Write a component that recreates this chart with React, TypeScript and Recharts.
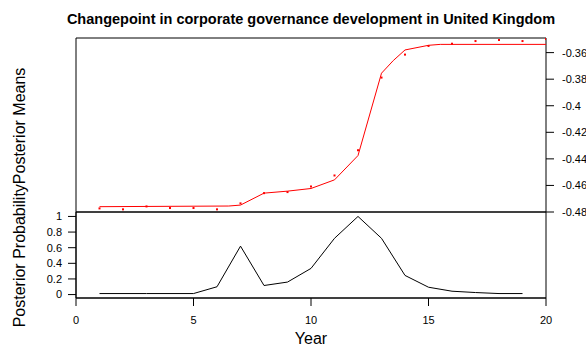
import React from 'react';
import { ComposedChart, Line, XAxis, YAxis, ReferenceArea, Label } from 'recharts';

// fitted posterior means (red line)
const meanLineX = [1, 6.5, 7, 8, 9, 10, 11, 12, 13, 13.5, 14, 15, 15.5, 20];
const meanLineY = [-0.476, -0.4755, -0.4748, -0.4658, -0.4643, -0.4623, -0.4558, -0.4375, -0.3755, -0.366, -0.358, -0.3545, -0.3538, -0.3538];

// observed values (red points)
const obsYears = [1, 2, 3, 4, 5, 6, 7, 8, 9, 10, 11, 12, 13, 14, 15, 16, 17, 18, 19, 20];
const obsValues = [-0.4773, -0.478, -0.4758, -0.477, -0.477, -0.478, -0.4735, -0.4658, -0.465, -0.4608, -0.4525, -0.4335, -0.3788, -0.3615, -0.355, -0.3533, -0.3513, -0.3505, -0.3513, -0.3498];

// posterior probability of a changepoint (black line)
const probYears = [1, 2, 3, 4, 5, 6, 7, 8, 9, 10, 11, 12, 13, 14, 15, 16, 17, 18, 19];
const probValues = [0.013, 0.013, 0.013, 0.013, 0.013, 0.1, 0.62, 0.116, 0.16, 0.335, 0.72, 1.0, 0.72, 0.245, 0.094, 0.043, 0.026, 0.013, 0.013];

const meanTicks = [-0.48, -0.46, -0.44, -0.42, -0.4, -0.38, -0.36];
const probTicks = [0, 0.2, 0.4, 0.6, 0.8, 1];
const yearTicks = [0, 5, 10, 15, 20];

const meanLine = meanLineX.map((x, i) => ({ x, y: meanLineY[i] }));
const obsPoints = obsYears.map((x, i) => ({ x, y: obsValues[i] }));
const probLine = probYears.map((x, i) => ({ x, y: probValues[i] }));

const FONT = '"Liberation Sans", Arial, sans-serif';
const W = 586;
const H = 356;

const fmt = (v: number) => String(+v.toFixed(2));

const SquareDot = (props: any) => {
  const { cx, cy, index } = props;
  if (cx == null || cy == null) return null;
  return <rect key={`pt-${index}`} x={cx - 1} y={cy - 1} width={2} height={2} fill="#ff0000" />;
};

export default function App() {
  const tickStyle = { fill: '#000', fontSize: 11, fontFamily: FONT };
  return (
    <div style={{ position: 'absolute', left: 0, top: 0, width: W, height: H, overflow: 'hidden', background: '#fff', fontFamily: FONT }}>
      {/* upper panel: posterior means */}
      <div style={{ position: 'absolute', left: 0, top: 0 }}>
        <ComposedChart width={W} height={H} margin={{ top: 38, right: 0, left: 76, bottom: 144 }}>
          <XAxis type="number" dataKey="x" domain={[0, 20]} hide allowDataOverflow />
          <YAxis
            orientation="right"
            type="number"
            dataKey="y"
            width={40}
            domain={[-0.48, -0.349]}
            ticks={meanTicks}
            tickFormatter={fmt}
            interval={0}
            allowDataOverflow
            axisLine={false}
            tickLine={{ stroke: '#000' }}
            tickSize={8}
            tickMargin={8}
            tick={tickStyle}
          />
          <ReferenceArea x1={0} x2={20} y1={-0.48} y2={-0.349} fill="none" fillOpacity={0} stroke="#000" strokeWidth={1} ifOverflow="visible" />
          <Line data={meanLine} dataKey="y" type="linear" stroke="#ff0000" strokeWidth={1} dot={false} isAnimationActive={false} />
          <Line data={obsPoints} dataKey="y" type="linear" stroke="none" dot={SquareDot} activeDot={false} isAnimationActive={false} />
        </ComposedChart>
      </div>

      {/* lower panel: posterior probability */}
      <div style={{ position: 'absolute', left: 0, top: 0 }}>
        <ComposedChart width={W} height={H} margin={{ top: 212, right: 40, left: 0, bottom: 0 }}>
          <XAxis
            type="number"
            dataKey="x"
            domain={[0, 20]}
            ticks={yearTicks}
            interval={0}
            height={58}
            axisLine={{ stroke: '#000' }}
            tickLine={{ stroke: '#000' }}
            tickSize={8}
            tickMargin={10}
            tick={tickStyle}
          >
            <Label value="Year" position="insideBottom" offset={12} style={{ fill: '#000', fontSize: 16, fontFamily: FONT }} />
          </XAxis>
          <YAxis
            type="number"
            dataKey="y"
            width={76}
            domain={[-0.044, 1.057]}
            ticks={probTicks}
            tickFormatter={fmt}
            interval={0}
            allowDataOverflow
            axisLine={{ stroke: '#000' }}
            tickLine={{ stroke: '#000' }}
            tickSize={8}
            tickMargin={6}
            tick={tickStyle}
          />
          <ReferenceArea x1={0} x2={20} y1={-0.044} y2={1.057} fill="none" fillOpacity={0} stroke="#000" strokeWidth={1} ifOverflow="visible" />
          <Line data={probLine} dataKey="y" type="linear" stroke="#000" strokeWidth={1} dot={false} isAnimationActive={false} />
        </ComposedChart>
      </div>

      {/* title and shared y label */}
      <svg width={W} height={H} style={{ position: 'absolute', left: 0, top: 0, pointerEvents: 'none' }}>
        <text x={311} y={24} textAnchor="middle" fontWeight="bold" fontSize={14.5} fontFamily={FONT} fill="#000">
          Changepoint in corporate governance development in United Kingdom
        </text>
        <text transform="translate(25,197.5) rotate(-90)" textAnchor="middle" fontSize={16} fontFamily={FONT} fill="#000">
          Posterior ProbabilityPosterior Means
        </text>
      </svg>
    </div>
  );
}
